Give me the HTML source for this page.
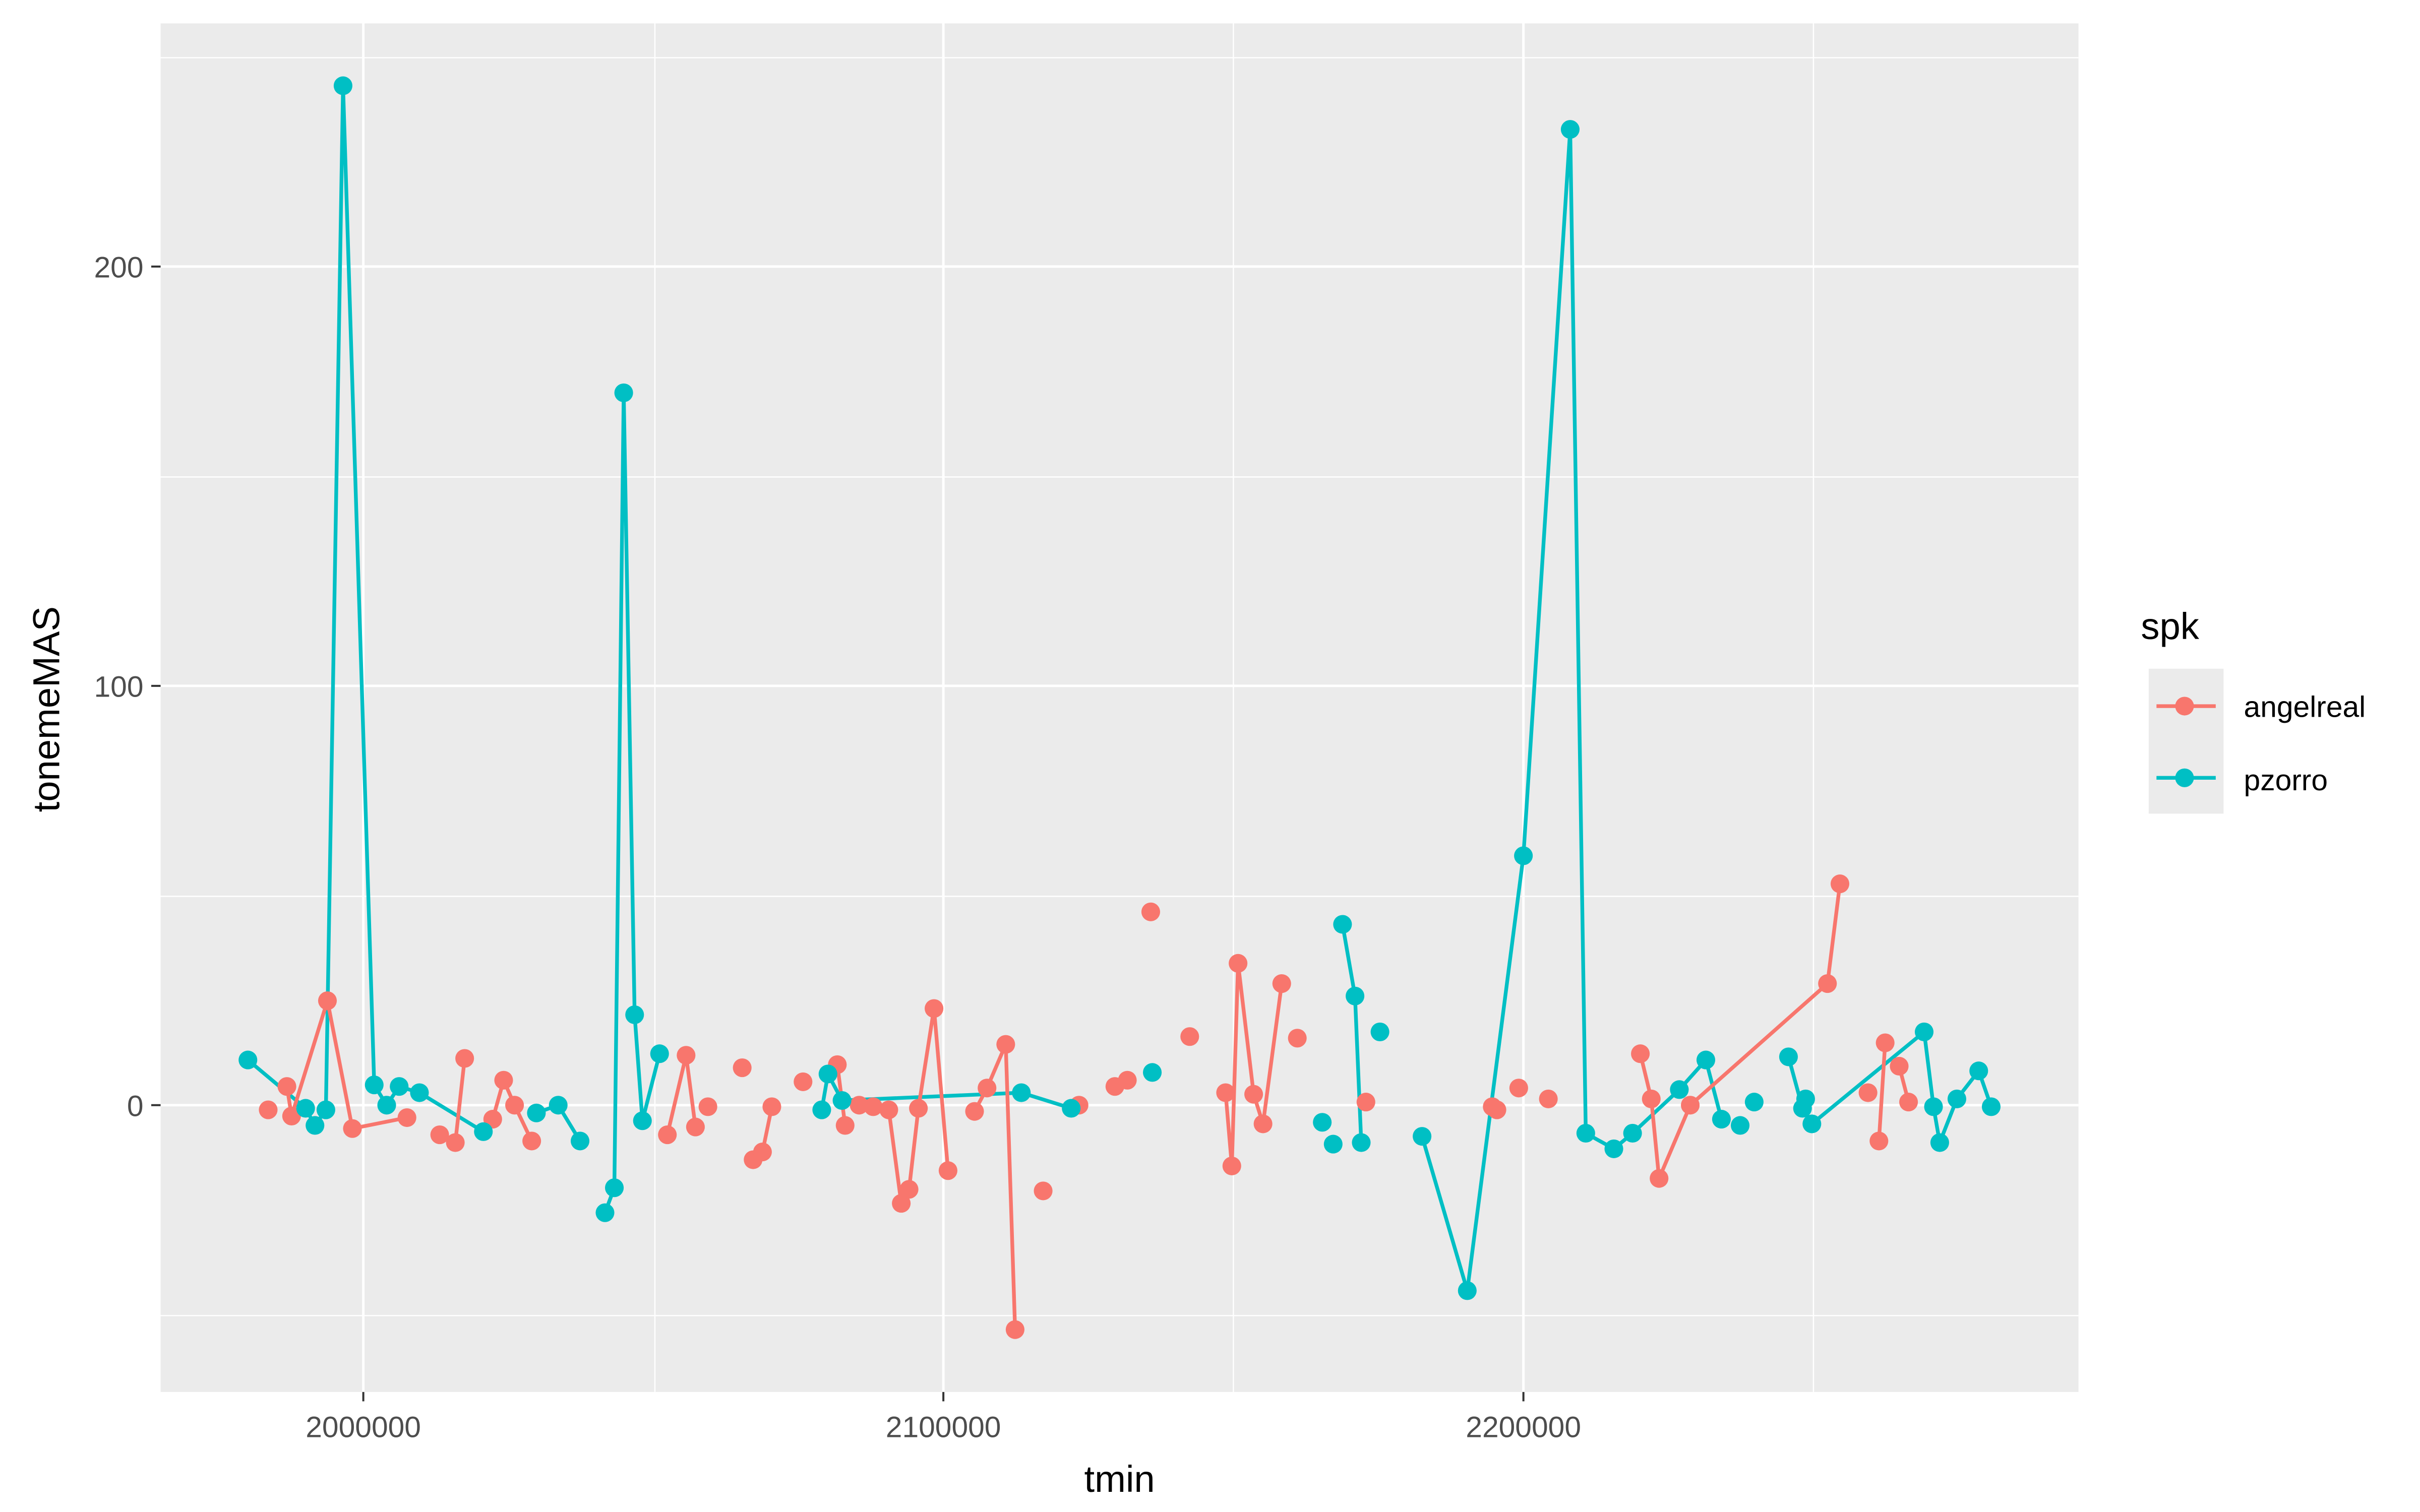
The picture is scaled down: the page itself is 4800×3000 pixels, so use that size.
<!DOCTYPE html>
<html><head><style>html,body{margin:0;padding:0;background:#fff}svg{display:block}</style></head>
<body>
<svg width="4800" height="3000" viewBox="0 0 1552 970" preserveAspectRatio="none" xmlns="http://www.w3.org/2000/svg" font-family="Liberation Sans, Arial, sans-serif">
<rect x="0" y="0" width="1552" height="970" fill="#fff"/>
<rect x="103" y="15" width="1230" height="878" fill="#EBEBEB"/>
<g stroke="#fff" stroke-width="0.8">
<line x1="103" x2="1333" y1="37" y2="37"/><line x1="103" x2="1333" y1="306" y2="306"/><line x1="103" x2="1333" y1="575" y2="575"/><line x1="103" x2="1333" y1="844" y2="844"/>
<line y1="15" y2="893" x1="420" x2="420"/><line y1="15" y2="893" x1="791" x2="791"/><line y1="15" y2="893" x1="1163" x2="1163"/>
</g>
<g stroke="#fff" stroke-width="1.6">
<line x1="103" x2="1333" y1="171" y2="171"/><line x1="103" x2="1333" y1="440" y2="440"/><line x1="103" x2="1333" y1="709" y2="709"/>
<line y1="15" y2="893" x1="233" x2="233"/><line y1="15" y2="893" x1="605" x2="605"/><line y1="15" y2="893" x1="977" x2="977"/>
</g>
<g stroke="#333" stroke-width="1.3">
<line x1="97" x2="103" y1="171" y2="171"/><line x1="97" x2="103" y1="440" y2="440"/><line x1="97" x2="103" y1="709" y2="709"/>
<line y1="893" y2="899" x1="233" x2="233"/><line y1="893" y2="899" x1="605" x2="605"/><line y1="893" y2="899" x1="977" x2="977"/>
</g>
<g fill="#4D4D4D" font-size="19" text-anchor="end">
<text x="92" y="178">200</text><text x="92" y="447">100</text><text x="92" y="716">0</text>
</g>
<g fill="#4D4D4D" font-size="19" text-anchor="middle">
<text x="233" y="922">2000000</text><text x="605" y="922">2100000</text><text x="977" y="922">2200000</text>
</g>
<text x="718" y="957" font-size="24" text-anchor="middle">tmin</text>
<text transform="translate(38,455) rotate(-90)" font-size="24" text-anchor="middle">tonemeMAS</text>

<g fill="none" stroke="#00BFC4" stroke-width="2.4" stroke-linejoin="round">
<polyline points="159,680 196,711 202,722 209,712 220,55 240,696 248,709 256,697 269,701 310,726"/>
<polyline points="344,714 358,709 372,732"/>
<polyline points="388,778 394,762 400,252 407,651 412,719 423,676"/>
<polyline points="527,712 531,689 540,706 655,701 687,711"/>
<polyline points="861,593 869,639 873,733"/>
<polyline points="912,729 941,828 977,549 1007,83 1017,727 1035,737 1047,727 1077,699 1094,680 1104,718"/>
<polyline points="1147,678 1156,711"/>
<polyline points="1162,721 1234,662 1240,710 1244,733 1255,705 1269,687 1277,710"/>
</g>
<g fill="none" stroke="#F8766D" stroke-width="2.4" stroke-linejoin="round">
<polyline points="184,697 187,716 210,642 226,724 261,717"/>
<polyline points="292,733 298,679"/>
<polyline points="316,718 323,693 330,709 341,732"/>
<polyline points="428,728 440,677 446,723"/>
<polyline points="483,744 489,739 495,710"/>
<polyline points="537,683 542,722"/>
<polyline points="570,712 578,772 583,763 589,711 599,647 608,751"/>
<polyline points="625,713 633,698 645,670 651,853"/>
<polyline points="786,701 790,748 794,618 804,702 810,721 822,631"/>
<polyline points="1052,676 1059,705 1064,756 1084,709 1172,631 1180,567"/>
<polyline points="1205,732 1209,669"/>
<polyline points="1218,684 1224,707"/>
</g>
<g fill="#F8766D">
<circle cx="172" cy="712" r="6"/><circle cx="184" cy="697" r="6"/><circle cx="187" cy="716" r="6"/><circle cx="210" cy="642" r="6"/><circle cx="226" cy="724" r="6"/><circle cx="261" cy="717" r="6"/><circle cx="282" cy="728" r="6"/><circle cx="292" cy="733" r="6"/><circle cx="298" cy="679" r="6"/><circle cx="316" cy="718" r="6"/><circle cx="323" cy="693" r="6"/><circle cx="330" cy="709" r="6"/><circle cx="341" cy="732" r="6"/><circle cx="428" cy="728" r="6"/><circle cx="440" cy="677" r="6"/><circle cx="446" cy="723" r="6"/><circle cx="454" cy="710" r="6"/><circle cx="476" cy="685" r="6"/><circle cx="483" cy="744" r="6"/><circle cx="489" cy="739" r="6"/><circle cx="495" cy="710" r="6"/><circle cx="515" cy="694" r="6"/><circle cx="537" cy="683" r="6"/><circle cx="542" cy="722" r="6"/><circle cx="551" cy="709" r="6"/><circle cx="560" cy="710" r="6"/><circle cx="570" cy="712" r="6"/><circle cx="578" cy="772" r="6"/><circle cx="583" cy="763" r="6"/><circle cx="589" cy="711" r="6"/><circle cx="599" cy="647" r="6"/><circle cx="608" cy="751" r="6"/><circle cx="625" cy="713" r="6"/><circle cx="633" cy="698" r="6"/><circle cx="645" cy="670" r="6"/><circle cx="651" cy="853" r="6"/><circle cx="669" cy="764" r="6"/><circle cx="692" cy="709" r="6"/><circle cx="715" cy="697" r="6"/><circle cx="723" cy="693" r="6"/><circle cx="738" cy="585" r="6"/><circle cx="763" cy="665" r="6"/><circle cx="786" cy="701" r="6"/><circle cx="790" cy="748" r="6"/><circle cx="794" cy="618" r="6"/><circle cx="804" cy="702" r="6"/><circle cx="810" cy="721" r="6"/><circle cx="822" cy="631" r="6"/><circle cx="832" cy="666" r="6"/><circle cx="876" cy="707" r="6"/><circle cx="957" cy="710" r="6"/><circle cx="960" cy="712" r="6"/><circle cx="974" cy="698" r="6"/><circle cx="993" cy="705" r="6"/><circle cx="1052" cy="676" r="6"/><circle cx="1059" cy="705" r="6"/><circle cx="1064" cy="756" r="6"/><circle cx="1084" cy="709" r="6"/><circle cx="1172" cy="631" r="6"/><circle cx="1180" cy="567" r="6"/><circle cx="1198" cy="701" r="6"/><circle cx="1205" cy="732" r="6"/><circle cx="1209" cy="669" r="6"/><circle cx="1218" cy="684" r="6"/><circle cx="1224" cy="707" r="6"/>
</g>
<g fill="#00BFC4">
<circle cx="159" cy="680" r="6"/><circle cx="196" cy="711" r="6"/><circle cx="202" cy="722" r="6"/><circle cx="209" cy="712" r="6"/><circle cx="220" cy="55" r="6"/><circle cx="240" cy="696" r="6"/><circle cx="248" cy="709" r="6"/><circle cx="256" cy="697" r="6"/><circle cx="269" cy="701" r="6"/><circle cx="310" cy="726" r="6"/><circle cx="344" cy="714" r="6"/><circle cx="358" cy="709" r="6"/><circle cx="372" cy="732" r="6"/><circle cx="388" cy="778" r="6"/><circle cx="394" cy="762" r="6"/><circle cx="400" cy="252" r="6"/><circle cx="407" cy="651" r="6"/><circle cx="412" cy="719" r="6"/><circle cx="423" cy="676" r="6"/><circle cx="527" cy="712" r="6"/><circle cx="531" cy="689" r="6"/><circle cx="540" cy="706" r="6"/><circle cx="655" cy="701" r="6"/><circle cx="687" cy="711" r="6"/><circle cx="739" cy="688" r="6"/><circle cx="848" cy="720" r="6"/><circle cx="855" cy="734" r="6"/><circle cx="861" cy="593" r="6"/><circle cx="869" cy="639" r="6"/><circle cx="873" cy="733" r="6"/><circle cx="885" cy="662" r="6"/><circle cx="912" cy="729" r="6"/><circle cx="941" cy="828" r="6"/><circle cx="977" cy="549" r="6"/><circle cx="1007" cy="83" r="6"/><circle cx="1017" cy="727" r="6"/><circle cx="1035" cy="737" r="6"/><circle cx="1047" cy="727" r="6"/><circle cx="1077" cy="699" r="6"/><circle cx="1094" cy="680" r="6"/><circle cx="1104" cy="718" r="6"/><circle cx="1116" cy="722" r="6"/><circle cx="1125" cy="707" r="6"/><circle cx="1147" cy="678" r="6"/><circle cx="1156" cy="711" r="6"/><circle cx="1158" cy="705" r="6"/><circle cx="1162" cy="721" r="6"/><circle cx="1234" cy="662" r="6"/><circle cx="1240" cy="710" r="6"/><circle cx="1244" cy="733" r="6"/><circle cx="1255" cy="705" r="6"/><circle cx="1269" cy="687" r="6"/><circle cx="1277" cy="710" r="6"/>
</g>

<text x="1373" y="410" font-size="24">spk</text>
<rect x="1378" y="429" width="48" height="93" fill="#EBEBEB"/>
<line x1="1383" x2="1421" y1="453" y2="453" stroke="#F8766D" stroke-width="2.4"/>
<circle cx="1401" cy="453" r="6" fill="#F8766D"/>
<line x1="1383" x2="1421" y1="499" y2="499" stroke="#00BFC4" stroke-width="2.4"/>
<circle cx="1401" cy="499" r="6" fill="#00BFC4"/>
<text x="1439" y="460" font-size="19">angelreal</text>
<text x="1439" y="507" font-size="19">pzorro</text>
</svg>
</body></html>
